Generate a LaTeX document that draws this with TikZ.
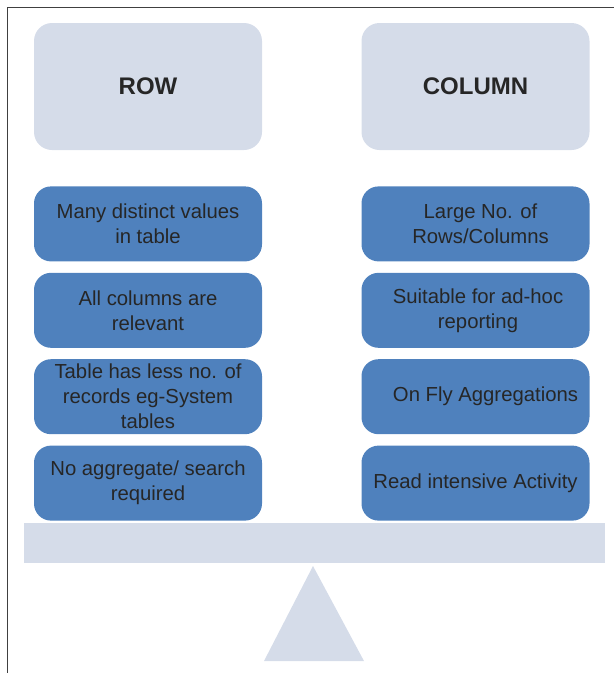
\documentclass[tikz,border=0pt]{standalone}
\usepackage{fontspec}
\setmainfont{Liberation Sans}
\usepackage{xcolor}
\usetikzlibrary{positioning}
\definecolor{paleblue}{HTML}{D5DCE9}
\definecolor{boxblue}{HTML}{4F81BD}
\definecolor{inkgray}{HTML}{262626}
\begin{document}
\begin{tikzpicture}[x=1pt,y=-1pt,
  header/.style={fill=paleblue,rounded corners=18pt,minimum width=228pt,minimum height=127pt,
    text=inkgray,font=\fontsize{24}{28}\selectfont\bfseries},
  item/.style={fill=boxblue,rounded corners=17pt,minimum width=228pt,minimum height=75pt,
    inner sep=1pt,align=center,text=inkgray,font=\fontsize{20.3}{25}\selectfont},
  node distance=11pt]
\useasboundingbox (0,0) rectangle (614,673);
\draw[black!75,line width=1.2pt] (7.5,673) -- (7.5,7.5) -- (614,7.5);
\node[header] (row) at (148,86.5) {ROW};
\node[header] (col) at (475.5,86.5) {COLUMN};
\node[item,below=36pt of row] (row1) {Many distinct values\\in table};
\node[item,below=of row1] (row2) {All columns are\\relevant};
\node[item,below=of row2] (row3) {Table has less no. of\\records eg-System\\tables};
\node[item,below=of row3] (row4) {No aggregate/ search\\required};
\node[item,below=36pt of col] (col1) {\hspace*{10pt}Large No. of\\\hspace*{10pt}Rows/Columns};
\node[item,below=of col1] (col2) {\hspace*{5pt}Suitable for ad-hoc\\\hspace*{5pt}reporting};
\node[item,below=of col2] (col3) {\hspace*{20pt}On Fly Aggregations};
\node[item,below=of col3] (col4) {Read intensive Activity};
\fill[paleblue] (24,523) rectangle (605,563);
\fill[paleblue] (264,661) -- (313,566) -- (364,661) -- cycle;
\end{tikzpicture}
\end{document}
